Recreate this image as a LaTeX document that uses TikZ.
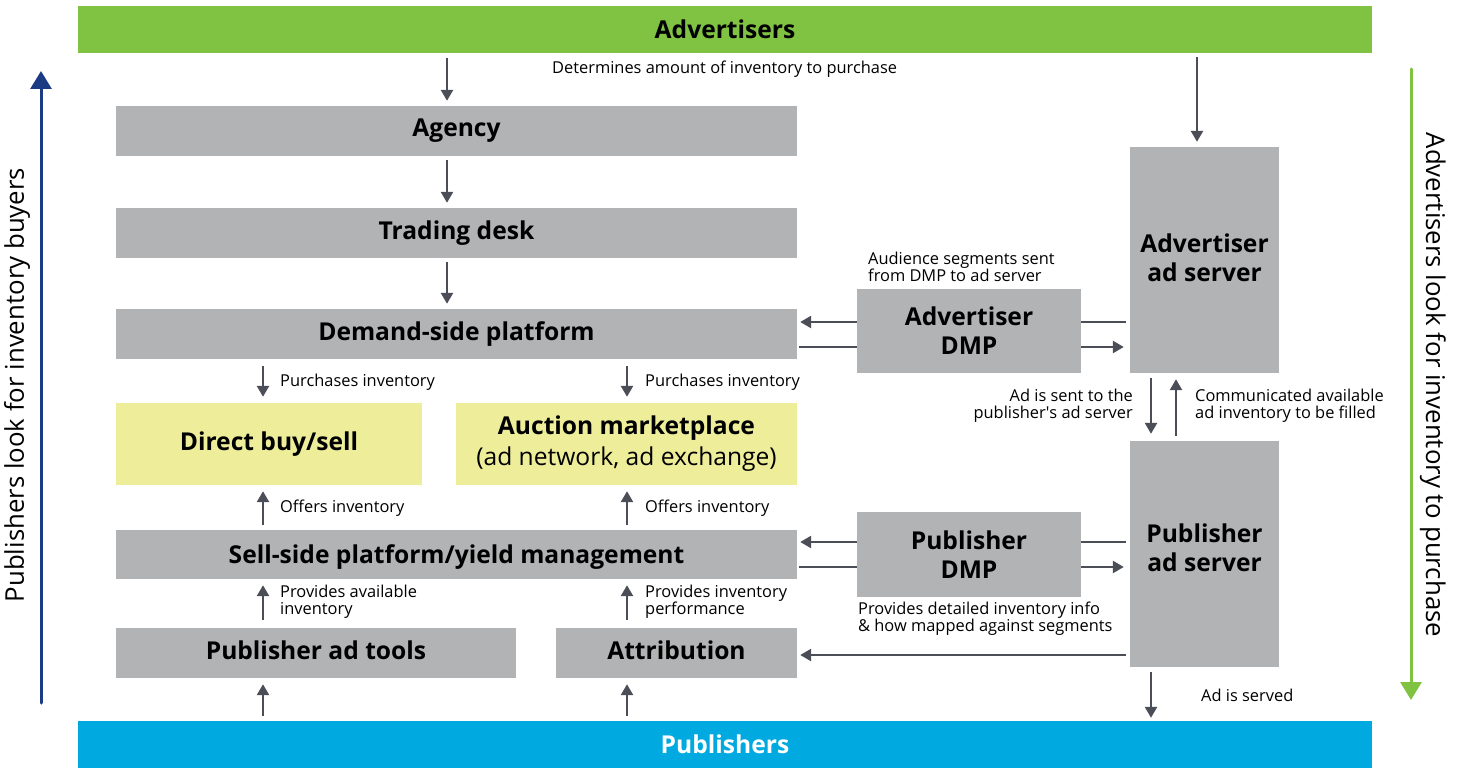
\documentclass[tikz,border=0pt]{standalone}
\usepackage{fontspec}
\setmainfont{Open Sans}
\usetikzlibrary{arrows.meta}
\definecolor{boxgray}{HTML}{B1B3B4}
\definecolor{boxyellow}{HTML}{EDED9A}
\definecolor{advgreen}{HTML}{80C342}
\definecolor{pubblue}{HTML}{00A9E0}
\definecolor{arrowgray}{HTML}{4B4E57}
\definecolor{navyblue}{HTML}{1C3B85}
\begin{document}
\begin{tikzpicture}[x=1pt,y=-1pt,
  box/.style={fill=boxgray, inner sep=0pt, font=\fontsize{24.6}{29}\selectfont\bfseries, align=center},
  ybox/.style={box, fill=boxyellow},
  barbox/.style={inner sep=0pt, font=\fontsize{24.6}{29}\selectfont\bfseries, minimum width=1294pt, minimum height=47pt},
  lbl/.style={font=\fontsize{16.4}{16.8}\selectfont, align=left, inner sep=0pt},
  side/.style={font=\fontsize{25.8}{30}\selectfont, inner sep=0pt},
  arr/.style={draw=arrowgray, line width=2.5pt, -{Triangle[length=11pt,width=12pt]}},
  ln/.style={draw=arrowgray, line width=2.5pt},
  ]
\useasboundingbox (0,0) rectangle (1460,768);
% bars
\node[barbox, fill=advgreen] (adv) at (725,29.5) {Advertisers};
\node[barbox, fill=pubblue, text=white] (pub) at (725,744.5) {Publishers};
% boxes
\node[box, minimum width=681pt, minimum height=50pt] (agency) at (456.5,131) {Agency};
\node[box, minimum width=681pt, minimum height=50pt] (trading) at (456.5,233) {Trading desk};
\node[box, minimum width=681pt, minimum height=50pt] (dsp) at (456.5,334) {Demand-side platform};
\node[ybox, minimum width=306pt, minimum height=82pt] (direct) at (269,444) {Direct buy/sell};
\node[ybox, minimum width=341pt, minimum height=82pt, font=\fontsize{24.6}{31}\selectfont\bfseries] (auction) at (626.5,444) {Auction marketplace\\{\mdseries (ad network, ad exchange)}};
\node[box, minimum width=681pt, minimum height=49pt, text height=18.8pt, text depth=0pt] (ssp) at (456.5,554.5) {Sell-side platform/yield management};
\node[box, minimum width=400pt, minimum height=50pt, text height=18.7pt, text depth=6pt] (tools) at (316,653) {Publisher ad tools};
\node[box, minimum width=241pt, minimum height=50pt, text height=18.7pt, text depth=6pt] (attr) at (676.5,653) {Attribution};
\node[box, minimum width=224pt, minimum height=84pt] (advdmp) at (969,331) {Advertiser\\DMP};
\node[box, minimum width=224pt, minimum height=85pt] (pubdmp) at (969,554.5) {Publisher\\DMP};
\node[box, minimum width=149pt, minimum height=226pt, text depth=4pt] (advsrv) at (1204.5,260) {Advertiser\\ad server};
\node[box, minimum width=149pt, minimum height=226pt, text depth=12pt] (pubsrv) at (1204.5,554) {Publisher\\ad server};
% side texts
\node[side, rotate=90] (lside) at (17,385) {Publishers look for inventory buyers};
\node[side, rotate=-90] (rside) at (1433,385) {Advertisers look for inventory to purchase};
\coordinate (bl1) at (41,703);
\coordinate (bl2) at (41,71);
\coordinate (gr1) at (1411,69);
\coordinate (gr2) at (1411,700);
\draw[navyblue, line width=3pt, line cap=round, -{Triangle[length=18pt,width=21pt]}] (bl1) -- (bl2);
\draw[advgreen, line width=3pt, line cap=round, -{Triangle[length=18pt,width=21pt]}] (gr1) -- (gr2);
% columns and rows
\coordinate (xa) at (447,0);
\coordinate (xd) at (263,0);
\coordinate (xu) at (627,0);
\coordinate (xs) at (1197,0);
\coordinate (xd1) at (1151,0);
\coordinate (xu1) at (1176,0);
\coordinate (r1) at (0,322);
\coordinate (r2) at (0,347);
\coordinate (r3) at (0,542);
\coordinate (r4) at (0,567);
\coordinate (r5) at (0,655);
% vertical chain
\draw[arr, shorten <=5pt, shorten >=5pt] (adv.south -| xa) -- (agency.north -| xa);
\draw[arr, shorten <=4pt, shorten >=5pt] (agency.south -| xa) -- (trading.north -| xa);
\draw[arr, shorten <=4pt, shorten >=5pt] (trading.south -| xa) -- (dsp.north -| xa);
\draw[arr, shorten <=7pt, shorten >=6pt] (dsp.south -| xd) -- (direct.north -| xd);
\draw[arr, shorten <=7pt, shorten >=6pt] (dsp.south -| xu) -- (auction.north -| xu);
\draw[arr, shorten <=5pt, shorten >=6pt] (ssp.north -| xd) -- (direct.south -| xd);
\draw[arr, shorten <=5pt, shorten >=6pt] (ssp.north -| xu) -- (auction.south -| xu);
\draw[arr, shorten <=8pt, shorten >=6pt] (tools.north -| xd) -- (ssp.south -| xd);
\draw[arr, shorten <=8pt, shorten >=6pt] (attr.north -| xu) -- (ssp.south -| xu);
\draw[arr, shorten <=5pt, shorten >=6pt] (pub.north -| xd) -- (tools.south -| xd);
\draw[arr, shorten <=5pt, shorten >=6pt] (pub.north -| xu) -- (attr.south -| xu);
% DMP connectors
\draw[arr, shorten >=3pt] (advdmp.west |- r1) -- (dsp.east |- r1);
\draw[ln, shorten <=2pt] (dsp.east |- r2) -- (advdmp.west |- r2);
\draw[ln, shorten >=4pt] (advdmp.east |- r1) -- (advsrv.west |- r1);
\draw[arr, shorten >=6pt] (advdmp.east |- r2) -- (advsrv.west |- r2);
\draw[arr, shorten >=3pt] (pubdmp.west |- r3) -- (ssp.east |- r3);
\draw[ln, shorten <=2pt] (ssp.east |- r4) -- (pubdmp.west |- r4);
\draw[ln, shorten >=4pt] (pubdmp.east |- r3) -- (pubsrv.west |- r3);
\draw[arr, shorten >=6pt] (pubdmp.east |- r4) -- (pubsrv.west |- r4);
\draw[arr, shorten <=4pt, shorten >=3pt] (pubsrv.west |- r5) -- (attr.east |- r5);
% servers
\draw[arr, shorten <=4pt, shorten >=5pt] (adv.south -| xs) -- (advsrv.north -| xs);
\draw[arr, shorten <=5pt, shorten >=7pt] (advsrv.south -| xd1) -- (pubsrv.north -| xd1);
\draw[arr, shorten <=5pt, shorten >=6pt] (pubsrv.north -| xu1) -- (advsrv.south -| xu1);
\draw[arr, shorten <=5pt, shorten >=3pt] (pubsrv.south -| xd1) -- (pub.north -| xd1);
% labels
\node[lbl, anchor=west] (l1) at (552,69) {Determines amount of inventory to purchase};
\node[lbl, anchor=west] (l2) at (280,382) {Purchases inventory};
\node[lbl, anchor=west] (l3) at (645,382) {Purchases inventory};
\node[lbl, anchor=west] (l4) at (280,508) {Offers inventory};
\node[lbl, anchor=west] (l5) at (645,508) {Offers inventory};
\node[lbl, anchor=west] (l6) at (280,602) {Provides available\\inventory};
\node[lbl, anchor=west] (l7) at (645,602) {Provides inventory\\performance};
\node[lbl, anchor=west] (l8) at (868,267) {Audience segments sent\\from DMP to ad server};
\node[lbl, anchor=east, align=right] (l9) at (1133,406) {Ad is sent to the\\publisher\textquotesingle s ad server};
\node[lbl, anchor=west] (l10) at (1195,406) {Communicated available\\ad inventory to be filled};
\node[lbl, anchor=west] (l11) at (858,619) {Provides detailed inventory info\\\& how mapped against segments};
\node[lbl, anchor=west] (l12) at (1201,695) {Ad is served};
\end{tikzpicture}
\end{document}
